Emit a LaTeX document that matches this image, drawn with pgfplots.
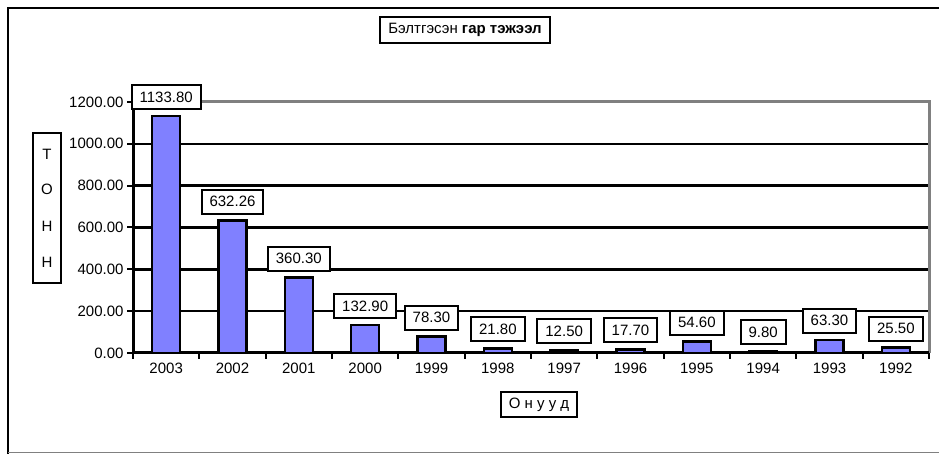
\documentclass[border=0pt]{standalone}
\usepackage{fontspec}
\setmainfont{Liberation Sans}
\usepackage{pgfplots}
\pgfplotsset{compat=1.18}
\definecolor{barblue}{HTML}{8080FF}
\definecolor{frgray}{HTML}{808080}
\begin{document}
\begin{tikzpicture}[x=1pt,y=1pt]
\useasboundingbox (0,0) rectangle (939,454);
\draw[line width=2.5pt] (8,0) -- (8,446) -- (939,446);
\draw[frgray, line width=1.5pt] (8,1.5) -- (939,1.5);
% title
\node[draw, line width=2pt, fill=white, inner xsep=8pt, minimum height=26pt, font=\fontsize{15}{17}\selectfont] at (465,424) {Бэлтгэсэн \textbf{гар тэжээл}};
% y label
\draw[line width=2pt] (33,171) rectangle (61,321);
\node[font=\fontsize{15}{17}\selectfont] at (47,300) {Т};
\node[font=\fontsize{15}{17}\selectfont] at (47,265) {О};
\node[font=\fontsize{15}{17}\selectfont] at (47,228) {Н};
\node[font=\fontsize{15}{17}\selectfont] at (47,192) {Н};
% x label
\node[draw, line width=2pt, inner xsep=8pt, minimum height=25pt, font=\fontsize{15}{17}\selectfont] at (539,49) {О н у у д};
\begin{axis}[
  at={(133pt,101pt)}, anchor=south west,
  scale only axis, width=796pt, height=251pt,
  xmin=-0.5, xmax=11.5, ymin=0, ymax=1200,
  clip=false,
  axis line style={draw=none},
  xtick={-0.5,0.5,...,11.5},
  x tick label as interval,
  xticklabels={2003,2002,2001,2000,1999,1998,1997,1996,1995,1994,1993,1992},
  ytick={0,200,...,1200},
  tick pos=left,
  tick align=outside,
  major tick length=6pt,
  tick style={black, line width=2pt},
  ymajorgrids,
  grid style={black, line width=2.5pt},
  /pgf/number format/assume math mode=true,
  ticklabel style={font=\fontsize{15}{17}\selectfont},
  yticklabel style={/pgf/number format/.cd, fixed, fixed zerofill, precision=2, 1000 sep={}},
  ybar, bar width=28pt,
  nodes near coords={\pgfmathprintnumber[fixed,fixed zerofill,precision=2,1000 sep={}]{\pgfplotspointmeta}},
  every node near coord/.append style={draw=black, fill=white, line width=2pt, inner xsep=8pt, minimum height=24pt, anchor=south, yshift=6pt, font=\fontsize{15}{17}\selectfont, /pgf/number format/assume math mode=true},
]
\draw[frgray, line width=3pt] (rel axis cs:0,1) -- (rel axis cs:1,1) -- (rel axis cs:1,0);
\draw[black, line width=3pt] (rel axis cs:0,1) -- (rel axis cs:0,0) -- (rel axis cs:1,0);
\addplot[fill=barblue, draw=black, line width=2.5pt] coordinates {
(0,1133.80) (1,632.26) (2,360.30) (3,132.90) (4,78.30) (5,21.80)
(6,12.50) (7,17.70) (8,54.60) (9,9.80) (10,63.30) (11,25.50)};
\end{axis}
\end{tikzpicture}
\end{document}
